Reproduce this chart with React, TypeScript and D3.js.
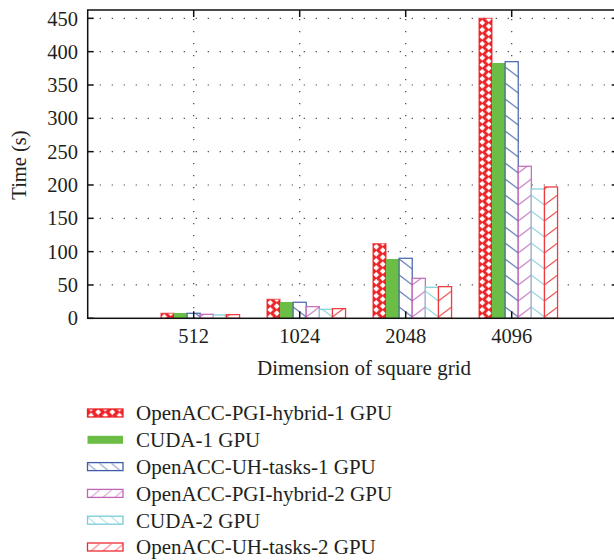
import React, { useEffect, useRef } from 'react';
import * as d3 from 'd3';

const categories = ['512', '1024', '2048', '4096'];
const seriesNames = [
    'OpenACC-PGI-hybrid-1 GPU',
    'CUDA-1 GPU',
    'OpenACC-UH-tasks-1 GPU',
    'OpenACC-PGI-hybrid-2 GPU',
    'CUDA-2 GPU',
    'OpenACC-UH-tasks-2 GPU'
];
const pgiHybrid1 = [7.5, 28.5, 112, 450];
const cuda1 = [8, 24.5, 89, 383];
const uhTasks1 = [7.5, 24, 90, 385];
const pgiHybrid2 = [6, 17.5, 60, 228];
const cuda2 = [5, 13.5, 46.5, 194];
const uhTasks2 = [5.5, 14.5, 47.5, 197];
const yTicks = [0, 50, 100, 150, 200, 250, 300, 350, 400, 450];

const seriesValues = [pgiHybrid1, cuda1, uhTasks1, pgiHybrid2, cuda2, uhTasks2];
// fill style per series: cross, solid, back (\), fwd (/)
const styles = [
    { kind: 'cross', color: '#ec2327' },
    { kind: 'solid', color: '#6bbd46' },
    { kind: 'back', color: '#3f5daa' },
    { kind: 'fwd', color: '#c064b4' },
    { kind: 'back', color: '#78cdd7' },
    { kind: 'fwd', color: '#ee2a2e' }
];

const FONT = '"Liberation Serif", "Times New Roman", serif';

export default function App() {
    const ref = useRef(null);

    useEffect(() => {
        document.body.style.margin = '0';
        const svg = d3.select(ref.current);
        svg.selectAll('*').remove();

        const x = d3.scaleLinear().domain([0, 5]).range([87.7, 617.7]);
        const y = d3.scaleLinear().domain([0, 462.5]).range([318.3, 10]);
        const barW = (x(1) - x(0)) * 0.1236;
        const sub = d3.scaleBand().domain(seriesNames).range([-2.5 * barW, 3.5 * barW]);

        const defs = svg.append('defs');

        // build a pattern anchored at (ox, oy)
        const makePattern = (id, s, ox, w, oy = 0) => {
            const p = defs.append('pattern')
                .attr('id', id)
                .attr('patternUnits', 'userSpaceOnUse')
                .attr('x', ox)
                .attr('y', oy);
            if (s.kind === 'cross') {
                const ph = 7;
                p.attr('width', w).attr('height', ph);
                p.append('rect').attr('width', w).attr('height', ph).attr('fill', s.color);
                const r = 2.9;
                const dia = (cx, cy) => `M${cx},${cy - r}L${cx + r},${cy}L${cx},${cy + r}L${cx - r},${cy}Z`;
                const a = w / 4, b = 3 * w / 4;
                p.append('path')
                    .attr('d', dia(a, ph / 4) + dia(b, 3 * ph / 4) + dia(a, ph / 4 + ph) + dia(b, 3 * ph / 4 - ph))
                    .attr('fill', 'white');
            } else {
                p.attr('width', w).attr('height', 16);
                p.append('rect').attr('width', w).attr('height', 16).attr('fill', 'white');
                const line = s.kind === 'back' ? `M0,3L${w},13` : `M0,13L${w},3`;
                p.append('path').attr('d', line).attr('stroke', s.color).attr('stroke-width', 1).attr('opacity', 0.85);
            }
        };

        // grid
        const grid = svg.append('g').attr('stroke', '#444').attr('stroke-width', 1.2).attr('stroke-dasharray', '1.2 10.8');
        grid.selectAll('line.h')
            .data(yTicks.filter(d => d > 0))
            .join('line')
                .attr('x1', x(0) + 12).attr('x2', x(5))
                .attr('y1', d => y(d)).attr('y2', d => y(d));
        grid.selectAll('line.v')
            .data(categories)
            .join('line')
                .attr('x1', (d, i) => x(i + 1)).attr('x2', (d, i) => x(i + 1))
                .attr('y1', y(0) - 10).attr('y2', y(462.5));

        // bars
        const bars = [];
        seriesValues.forEach((vals, si) => {
            vals.forEach((v, ci) => {
                bars.push({ si, ci, v, x0: x(ci + 1) + sub(seriesNames[si]) });
            });
        });
        bars.forEach(b => {
            const s = styles[b.si];
            if (s.kind !== 'solid') makePattern(`p${b.si}_${b.ci}`, s, b.x0, barW);
        });
        svg.append('g')
            .selectAll('rect')
            .data(bars)
            .join('rect')
                .attr('x', d => d.x0)
                .attr('y', d => y(d.v))
                .attr('width', barW)
                .attr('height', d => y(0) - y(d.v))
                .attr('fill', d => styles[d.si].kind === 'solid' ? styles[d.si].color : `url(#p${d.si}_${d.ci})`)
                .attr('stroke', d => styles[d.si].kind === 'solid' ? 'none' : styles[d.si].color)
                .attr('stroke-width', 1.3)
                .attr('stroke-opacity', d => styles[d.si].kind === 'cross' ? 0.6 : 0.9);

        // frame + ticks
        const frame = svg.append('g').attr('stroke', '#111').attr('stroke-width', 1.5).attr('fill', 'none');
        frame.append('rect')
            .attr('x', x(0)).attr('y', y(462.5))
            .attr('width', x(5) - x(0)).attr('height', y(0) - y(462.5));
        frame.selectAll('line.yt')
            .data(yTicks)
            .join('line')
                .attr('x1', x(0)).attr('x2', x(0) + 6)
                .attr('y1', d => y(d)).attr('y2', d => y(d));
        frame.selectAll('line.yr')
            .data(yTicks)
            .enter().append('line')
                .attr('x1', x(5) - 6).attr('x2', x(5))
                .attr('y1', d => y(d)).attr('y2', d => y(d));
        frame.selectAll('line.xt')
            .data(categories)
            .enter().append('line')
                .attr('x1', (d, i) => x(i + 1)).attr('x2', (d, i) => x(i + 1))
                .attr('y1', y(462.5)).attr('y2', y(462.5) + 7);
        frame.selectAll('line.xb')
            .data(categories)
            .enter().append('line')
                .attr('x1', (d, i) => x(i + 1)).attr('x2', (d, i) => x(i + 1))
                .attr('y1', y(0)).attr('y2', y(0) - 7);

        // labels
        const text = svg.append('g').attr('font-family', FONT).attr('font-size', 20.5).attr('fill', '#231f20');
        text.selectAll('text.yl')
            .data(yTicks)
            .enter().append('text')
                .attr('x', 78).attr('y', d => y(d))
                .attr('dy', '0.35em')
                .attr('text-anchor', 'end')
                .text(d => d);
        text.selectAll('text.xl')
            .data(categories)
            .enter().append('text')
                .attr('x', (d, i) => x(i + 1)).attr('y', 336)
                .attr('dy', '0.35em')
                .attr('text-anchor', 'middle')
                .text(d => d);
        text.append('text')
            .attr('transform', 'translate(26,165) rotate(-90)')
            .attr('text-anchor', 'middle')
            .text('Time (s)');
        text.append('text')
            .attr('x', 364).attr('y', 375)
            .attr('text-anchor', 'middle')
            .attr('font-size', 21)
            .text('Dimension of square grid');

        // legend
        const legY = d3.scaleLinear().domain([0, 5]).range([413, 547]);
        const leg = svg.append('g');
        seriesNames.forEach((name, i) => {
            const s = styles[i];
            const cy = legY(i);
            if (s.kind !== 'solid') makePattern(`leg${i}`, s, 87.5, s.kind === 'cross' ? 14.2 : 12, cy - 4 - 2.2);
            leg.append('rect')
                .attr('x', 87.5).attr('y', cy - 4)
                .attr('width', 35.5).attr('height', 8)
                .attr('fill', s.kind === 'solid' ? s.color : `url(#leg${i})`)
                .attr('stroke', s.kind === 'solid' ? 'none' : s.color)
                .attr('stroke-width', 1.3);
            leg.append('text')
                .attr('x', 136).attr('y', cy)
                .attr('dy', '0.35em')
                .attr('font-family', FONT)
                .attr('font-size', 21)
                .attr('fill', '#231f20')
                .text(name);
        });
    }, []);

    return (
        <div id="chart-area">
            <svg ref={ref} width={614} height={560} style={{ display: 'block', background: 'white' }}></svg>
        </div>
    );
}
